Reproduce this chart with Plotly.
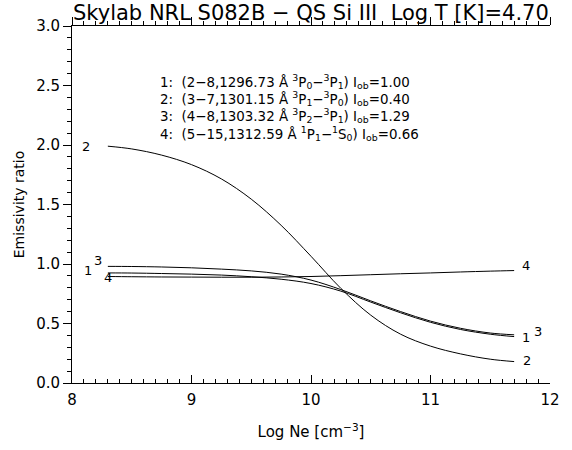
import plotly.graph_objects as go

log_ne = [8.3, 8.5, 8.75, 9.0, 9.25, 9.5, 9.75, 10.0, 10.25, 10.5, 10.75, 11.0, 11.25, 11.5, 11.7]
ratio_1 = [0.925, 0.924, 0.92, 0.915, 0.907, 0.893, 0.872, 0.836, 0.772, 0.68, 0.59, 0.51, 0.45, 0.41, 0.39]
ratio_2 = [1.99, 1.967, 1.915, 1.835, 1.715, 1.545, 1.325, 1.065, 0.795, 0.57, 0.41, 0.31, 0.245, 0.20, 0.18]
ratio_3 = [0.98, 0.979, 0.975, 0.968, 0.957, 0.942, 0.915, 0.865, 0.785, 0.69, 0.60, 0.52, 0.46, 0.42, 0.405]
ratio_4 = [0.895, 0.893, 0.891, 0.89, 0.889, 0.889, 0.891, 0.895, 0.902, 0.91, 0.918, 0.925, 0.933, 0.94, 0.945]
series = [("1", ratio_1), ("2", ratio_2), ("3", ratio_3), ("4", ratio_4)]

legend_lines = [
    "1:  (2\u22128,1296.73 \u00c5 <sup>3</sup>P<sub>0</sub>\u2212<sup>3</sup>P<sub>1</sub>) I<sub>ob</sub>=1.00",
    "2:  (3\u22127,1301.15 \u00c5 <sup>3</sup>P<sub>1</sub>\u2212<sup>3</sup>P<sub>0</sub>) I<sub>ob</sub>=0.40",
    "3:  (4\u22128,1303.32 \u00c5 <sup>3</sup>P<sub>2</sub>\u2212<sup>3</sup>P<sub>1</sub>) I<sub>ob</sub>=1.29",
    "4:  (5\u221215,1312.59 \u00c5 <sup>1</sup>P<sub>1</sub>\u2212<sup>1</sup>S<sub>0</sub>) I<sub>ob</sub>=0.66",
]

FONT = "DejaVu Sans"
L, R, T, B = 72, 12, 26, 59
W, H = 572, 450
PW, PH = W - L - R, H - T - B

fig = go.Figure()
for name, ys in series:
    fig.add_trace(go.Scatter(x=log_ne, y=ys, mode="lines",
                             line=dict(color="black", width=1, shape="spline", smoothing=1.0),
                             name=name, showlegend=False, hoverinfo="skip"))
# invisible trace so the top axis is drawn
fig.add_trace(go.Scatter(x=[8, 12], y=[0, 0], xaxis="x2", mode="lines", line=dict(width=0),
                         showlegend=False, hoverinfo="skip", opacity=0))

ann = []
left_off = {"1": (-0.17, 0.02), "2": (-0.18, 0.0), "3": (-0.08, 0.05), "4": (0.0, -0.01)}
right_off = {"1": (0.1, -0.01), "2": (0.11, 0.01), "3": (0.2, 0.025), "4": (0.1, 0.04)}
for name, ys in series:
    dx, dy = left_off[name]
    ann.append(dict(x=log_ne[0] + dx, y=ys[0] + dy, text=name, showarrow=False,
                    font=dict(family=FONT, size=13, color="black"), xanchor="center", yanchor="middle"))
    dx, dy = right_off[name]
    ann.append(dict(x=log_ne[-1] + dx, y=ys[-1] + dy, text=name, showarrow=False,
                    font=dict(family=FONT, size=13, color="black"), xanchor="center", yanchor="middle"))
for i, t in enumerate(legend_lines):
    px, py = 160, 83 + 17.5 * i
    ann.append(dict(x=(px - L) / PW, y=(H - py - B) / PH, xref="paper", yref="paper", text=t,
                    showarrow=False, font=dict(family=FONT, size=13.4, color="black"),
                    xanchor="left", yanchor="middle"))
ann.append(dict(x=0.5, y=1, xref="paper", yref="paper", yshift=13,
                text="Skylab NRL S082B \u2212 QS Si III  Log T [K]=4.70",
                showarrow=False, font=dict(family=FONT, size=21, color="black"),
                xanchor="center", yanchor="middle"))

fig.update_layout(
    width=W, height=H,
    margin=dict(l=L, r=R, t=T, b=B),
    plot_bgcolor="white", paper_bgcolor="white",
    font=dict(family=FONT, size=14, color="black"),
    annotations=ann,
    xaxis=dict(range=[8, 12], showline=True, linecolor="black", linewidth=1, mirror=False,
               ticks="inside", ticklen=8, tickcolor="black", dtick=1, tick0=8,
               minor=dict(ticks="inside", ticklen=4, dtick=0.1, tickcolor="black"),
               showgrid=False, zeroline=False, ticklabelstandoff=3,
               title=dict(text="Log Ne [cm<sup>\u22123</sup>]", standoff=18, font=dict(size=15)),
               tickfont=dict(size=15)),
    xaxis2=dict(range=[8, 12], overlaying="x", side="top", showline=True, linecolor="black", linewidth=1,
                ticks="outside", ticklen=8, tickcolor="black", dtick=1, tick0=8,
                minor=dict(ticks="outside", ticklen=4, dtick=0.1, tickcolor="black"),
                showticklabels=False, showgrid=False, zeroline=False),
    yaxis=dict(range=[0, 3], showline=True, linecolor="black", linewidth=1,
               ticks="outside", ticklen=8, tickcolor="black", dtick=0.5, tickformat=".1f",
               minor=dict(ticks="outside", ticklen=4, dtick=0.1, tickcolor="black"),
               showgrid=False, zeroline=False,
               title=dict(text="Emissivity ratio", standoff=8, font=dict(size=14)),
               tickfont=dict(size=15)),
)
fig.write_html("out.html")
